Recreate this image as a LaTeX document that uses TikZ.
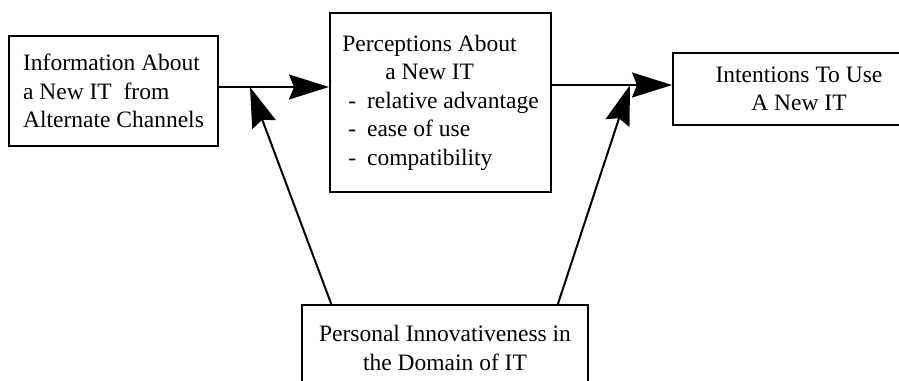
\documentclass[tikz,border=0pt]{standalone}
\usepackage{fontspec}
\setmainfont{Liberation Serif}
\usetikzlibrary{arrows.meta,calc}
\newcommand{\dashitem}[1]{\hspace*{6pt}-\hspace{11pt}#1}

\begin{document}
\begin{tikzpicture}[x=1pt,y=-1pt,
        box/.style={draw,line width=2pt,inner sep=0pt,font=\fontsize{23.5}{28.5}\selectfont},
        arr/.style={line width=2pt,-{Stealth[length=40pt,width=25pt,inset=5pt]}}]
    \useasboundingbox (0,0) rectangle (899,380);

    \node[box,align=left,minimum width=209pt,minimum height=110pt] (info) at (113.5,91)
        {Information About\\a New IT\ \ from\\Alternate Channels};
    \node[box,align=left,minimum width=221pt,minimum height=179pt] (perc) at (440.5,102.5)
        {Perceptions About\\\hspace*{43pt}a New IT\\\dashitem{relative advantage}\\\dashitem{ease of use}\\\dashitem{compatibility}};
    \node[box,align=center,minimum width=252pt,minimum height=72pt] (intent) at (799,89)
        {Intentions To Use\\A New IT};
    \node[box,align=center,minimum width=286pt,minimum height=86pt] (innov) at (445,348)
        {Personal Innovativeness in\\the Domain of IT};

    % where the moderating arrows meet the main ones
    \coordinate (jl) at (250,87);
    \coordinate (jr) at (630,85);

    \draw[arr] (info.east |- jl) -- (perc.west |- jl);
    \draw[arr] (perc.east |- jr) -- (intent.west |- jr);
    \draw[arr] ($(innov.north west)!0.105!(innov.north east)$) -- (jl);
    \draw[arr] ($(innov.north west)!0.892!(innov.north east)$) -- (jr);
\end{tikzpicture}
\end{document}
